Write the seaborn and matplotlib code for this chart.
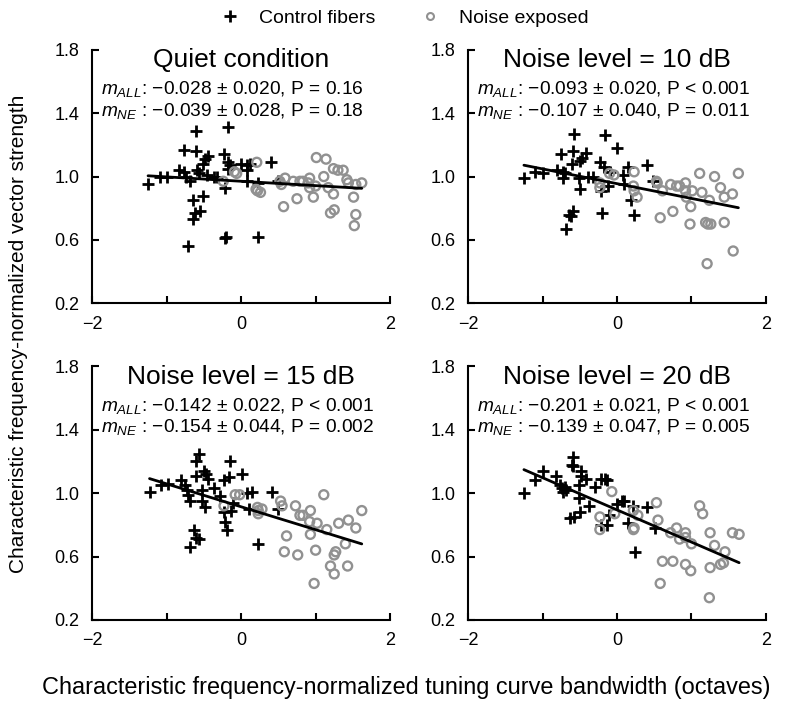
import matplotlib
matplotlib.use("Agg")
import matplotlib.pyplot as plt
import numpy as np
import pandas as pd
import seaborn as sns
from matplotlib.lines import Line2D

sns.set_style("ticks")
plt.rcParams['font.family'] = ['Liberation Sans', 'DejaVu Sans']
plt.rcParams['mathtext.fontset'] = 'custom'
plt.rcParams['mathtext.it'] = 'Liberation Sans:italic'
plt.rcParams['mathtext.rm'] = 'Liberation Sans'
for key in ['text.color', 'axes.labelcolor', 'xtick.color', 'ytick.color', 'axes.edgecolor']:
    plt.rcParams[key] = 'black'

# ---- data (bandwidth in octaves, normalized vector strength) ----
quiet_ctrl_x = [-1.25, -1.09, -0.99, -0.84, -0.77, -0.74, -0.77, -0.69, -0.64, -0.62, -0.64, -0.71,
                -0.60, -0.60, -0.59, -0.57, -0.51, -0.48, -0.44, -0.51, -0.55, -0.46, -0.37, -0.32,
                -0.23, -0.17, -0.20, -0.21, -0.17, -0.15, -0.17, -0.21, 0.00, 0.08, 0.08, 0.12,
                0.08, 0.22, 0.22, 0.40, 0.50]
quiet_ctrl_y = [0.95, 1.00, 1.00, 1.04, 1.17, 1.00, 1.03, 0.97, 0.85, 0.77, 0.73, 0.56,
                1.29, 1.16, 1.04, 1.02, 1.08, 1.11, 1.13, 0.88, 0.78, 1.01, 1.00, 1.00,
                1.14, 1.31, 0.62, 0.61, 1.09, 1.07, 1.05, 0.93, 1.08, 1.07, 1.04, 1.08,
                0.97, 0.96, 0.62, 1.09, 0.97]
quiet_ne_x = [-0.24, -0.09, -0.06, 0.21, 0.20, 0.22, 0.26, 0.52, 0.54, 0.59, 0.57, 0.70, 0.75,
              0.79, 0.83, 0.90, 0.92, 0.92, 0.97, 1.01, 1.00, 1.11, 1.14, 1.17, 1.20, 1.24, 1.25,
              1.24, 1.30, 1.37, 1.42, 1.44, 1.51, 1.54, 1.52, 1.54, 1.62]
quiet_ne_y = [0.97, 1.03, 1.02, 1.09, 0.92, 0.91, 0.90, 0.97, 0.95, 0.99, 0.81, 0.97, 0.86,
              0.97, 0.97, 0.96, 0.99, 0.93, 0.87, 1.12, 0.94, 1.00, 1.11, 0.93, 0.77, 1.05, 0.79,
              0.89, 1.04, 1.04, 0.98, 0.96, 0.87, 0.76, 0.69, 0.95, 0.96]

n10_ctrl_x = [-1.25, -1.10, -0.99, -0.81, -0.75, -0.73, -0.73, -0.70, -0.69, -0.64, -0.59, -0.62,
              -0.59, -0.58, -0.60, -0.50, -0.47, -0.41, -0.51, -0.50, -0.39, -0.32, -0.23, -0.21,
              -0.20, -0.16, -0.18, -0.12, -0.10, 0.00, 0.08, 0.10, 0.15, 0.19, 0.23, 0.40, 0.48]
n10_ctrl_y = [0.99, 1.03, 1.02, 1.04, 1.14, 1.03, 0.99, 1.02, 0.67, 0.76, 0.78, 0.75,
              1.16, 1.27, 1.08, 1.10, 1.12, 1.15, 0.99, 0.92, 1.00, 1.00, 1.09, 0.91,
              0.77, 1.26, 1.06, 0.94, 1.03, 1.18, 1.01, 0.95, 1.06, 0.85, 0.76, 1.07, 0.97]
n10_ne_x = [-0.23, -0.23, -0.10, -0.04, 0.23, 0.22, 0.23, 0.27, 0.53, 0.54, 0.61, 0.58, 0.72,
            0.75, 0.80, 0.84, 0.92, 0.92, 0.93, 0.99, 0.98, 1.01, 1.11, 1.14, 1.19, 1.22, 1.26,
            1.21, 1.24, 1.31, 1.39, 1.44, 1.44, 1.55, 1.56, 1.63]
n10_ne_y = [0.96, 0.93, 1.02, 1.01, 1.03, 0.94, 0.91, 0.87, 0.97, 0.96, 0.91, 0.74, 0.95,
            0.78, 0.94, 0.94, 0.96, 0.91, 0.87, 0.81, 0.70, 0.91, 1.02, 0.90, 0.71, 0.70, 0.70,
            0.45, 0.85, 1.00, 0.93, 0.87, 0.71, 0.89, 0.53, 1.02]

n15_ctrl_x = [-1.23, -1.08, -0.98, -0.81, -0.75, -0.73, -0.71, -0.68, -0.68, -0.63, -0.61, -0.56,
              -0.60, -0.60, -0.57, -0.50, -0.47, -0.44, -0.52, -0.52, -0.49, -0.37, -0.28, -0.23,
              -0.16, -0.15, 0.01, -0.23, -0.22, -0.19, -0.14, -0.11, 0.08, 0.14, 0.10, 0.23,
              0.41, 0.50]
n15_ctrl_y = [1.01, 1.05, 1.06, 1.08, 1.05, 1.02, 0.99, 0.95, 0.66, 0.77, 0.72, 0.71,
              1.11, 1.20, 1.25, 1.14, 1.12, 1.09, 1.02, 0.95, 0.91, 1.03, 0.98, 1.08,
              1.10, 1.20, 1.12, 0.88, 0.82, 0.77, 0.89, 0.94, 1.00, 1.01, 0.90, 0.68,
              1.01, 0.90]
n15_ne_x = [-0.23, -0.08, -0.02, 0.22, 0.23, 0.28, 0.23, 0.53, 0.55, 0.61, 0.58, 0.73, 0.76,
            0.79, 0.83, 0.93, 0.92, 0.93, 1.00, 0.98, 1.02, 1.11, 1.15, 1.20, 1.25, 1.25, 1.27,
            1.31, 1.40, 1.43, 1.44, 1.54, 1.62]
n15_ne_y = [0.92, 0.99, 0.99, 0.91, 0.89, 0.90, 0.87, 0.95, 0.92, 0.73, 0.63, 0.92, 0.61,
            0.86, 0.86, 0.89, 0.82, 0.74, 0.64, 0.43, 0.81, 0.99, 0.77, 0.54, 0.49, 0.61, 0.63,
            0.81, 0.68, 0.54, 0.83, 0.78, 0.89]

n20_ctrl_x = [-1.25, -1.10, -0.99, -0.82, -0.76, -0.74, -0.73, -0.68, -0.70, -0.63, -0.58, -0.50,
              -0.59, -0.59, -0.61, -0.49, -0.48, -0.42, -0.51, -0.51, -0.37, -0.30, -0.22, -0.16,
              -0.13, -0.22, -0.13, -0.11, 0.00, 0.07, 0.09, 0.15, 0.21, 0.24, 0.40, 0.51]
n20_ctrl_y = [1.00, 1.08, 1.14, 1.11, 1.05, 1.03, 1.01, 1.02, 1.04, 0.84, 0.85, 0.88,
              1.17, 1.23, 1.18, 1.14, 1.11, 1.09, 1.05, 0.97, 0.92, 1.04, 1.09, 1.09,
              1.08, 0.80, 0.80, 0.86, 0.93, 0.95, 0.95, 0.81, 0.92, 0.63, 0.91, 0.78]
n20_ne_x = [-0.23, -0.23, -0.07, -0.03, 0.22, 0.22, 0.23, 0.28, 0.53, 0.55, 0.61, 0.58, 0.72,
            0.75, 0.80, 0.84, 0.92, 0.92, 0.92, 0.99, 1.00, 1.11, 1.15, 1.25, 1.25, 1.24, 1.31,
            1.39, 1.43, 1.45, 1.55, 1.64]
n20_ne_y = [0.85, 0.77, 1.01, 0.87, 0.89, 0.77, 0.78, 0.86, 0.94, 0.83, 0.57, 0.43, 0.75,
            0.57, 0.78, 0.71, 0.75, 0.72, 0.55, 0.51, 0.68, 0.92, 0.87, 0.75, 0.53, 0.34, 0.67,
            0.55, 0.56, 0.63, 0.75, 0.74]

titles = ['Quiet condition', 'Noise level = 10 dB', 'Noise level = 15 dB', 'Noise level = 20 dB']
stats_all = ['\u22120.028 \u00b1 0.020, P = 0.16', '\u22120.093 \u00b1 0.020, P < 0.001',
             '\u22120.142 \u00b1 0.022, P < 0.001', '\u22120.201 \u00b1 0.021, P < 0.001']
stats_ne = ['\u22120.039 \u00b1 0.028, P = 0.18', '\u22120.107 \u00b1 0.040, P = 0.011',
            '\u22120.154 \u00b1 0.044, P = 0.002', '\u22120.139 \u00b1 0.047, P = 0.005']

panels = [(quiet_ctrl_x, quiet_ctrl_y, quiet_ne_x, quiet_ne_y),
          (n10_ctrl_x, n10_ctrl_y, n10_ne_x, n10_ne_y),
          (n15_ctrl_x, n15_ctrl_y, n15_ne_x, n15_ne_y),
          (n20_ctrl_x, n20_ctrl_y, n20_ne_x, n20_ne_y)]

frames = []
for i, (cx, cy, nx, ny) in enumerate(panels):
    frames.append(pd.DataFrame({'panel': i, 'group': 'Control fibers', 'bw': cx, 'vs': cy}))
    frames.append(pd.DataFrame({'panel': i, 'group': 'Noise exposed', 'bw': nx, 'vs': ny}))
df = pd.concat(frames, ignore_index=True)

fig = plt.figure(figsize=(7.88, 7.02), dpi=100)
boxes = [(0.117, 0.568), (0.594, 0.568), (0.117, 0.117), (0.594, 0.117)]
w, h = 0.378, 0.361
gray = '#919191'

for i, (l, b) in enumerate(boxes):
    ax = fig.add_axes([l, b, w, h])
    sub = df[df.panel == i]
    ctrl = sub[sub.group == 'Control fibers']
    ne = sub[sub.group == 'Noise exposed']
    sns.scatterplot(data=ctrl, x='bw', y='vs', marker='+', color='black', s=75,
                    linewidth=2, ax=ax, legend=False, zorder=2)
    sns.scatterplot(data=ne, x='bw', y='vs', marker='o', s=42, fc='none', ec=gray,
                    linewidth=1.7, ax=ax, legend=False, zorder=3)
    sns.regplot(data=sub, x='bw', y='vs', scatter=False, ci=None, color='black',
                line_kws={'lw': 2, 'zorder': 4}, truncate=True, ax=ax)
    ax.set_xlim(-2, 2)
    ax.set_ylim(0.2, 1.8)
    ax.set_xticks([-2, -1, 0, 1, 2])
    ax.set_xticklabels(['\u22122', '', '0', '', '2'])
    ax.set_yticks([0.2, 0.6, 1.0, 1.4, 1.8])
    ax.set_yticklabels(['0.2', '0.6', '1.0', '1.4', '1.8'])
    ax.tick_params(direction='in', length=5, width=1.5, labelsize=13, pad=9)
    for sp in ['top', 'right']:
        ax.spines[sp].set_visible(False)
    for sp in ['left', 'bottom']:
        ax.spines[sp].set_linewidth(1.5)
    ax.set_xlabel('')
    ax.set_ylabel('')
    ax.text(0.5, 0.96, titles[i], transform=ax.transAxes, ha='center', va='center',
            fontsize=19)
    ax.text(0.03, 0.845, r'$m_{ALL}$: ' + stats_all[i], transform=ax.transAxes,
            ha='left', va='center', fontsize=13.8)
    ax.text(0.03, 0.76, r'$m_{NE}$ : ' + stats_ne[i], transform=ax.transAxes,
            ha='left', va='center', fontsize=13.8)

handles = [Line2D([], [], ls='none', marker='+', color='black', ms=8, mew=2),
           Line2D([], [], ls='none', marker='o', mfc='none', mec=gray, ms=5, mew=1.5)]
fig.legend(handles, ['Control fibers', 'Noise exposed'], loc='upper center',
           bbox_to_anchor=(0.513, 1.012), ncol=2, frameon=False, fontsize=14,
           handlelength=1.0, handletextpad=1.0, columnspacing=2.3)

fig.text(0.023, 0.525, 'Characteristic frequency-normalized vector strength', rotation=90,
         ha='center', va='center', fontsize=15)
fig.text(0.515, 0.02, 'Characteristic frequency-normalized tuning curve bandwidth (octaves)',
         ha='center', va='center', fontsize=16.9)

fig.savefig('out.png', dpi=100)
